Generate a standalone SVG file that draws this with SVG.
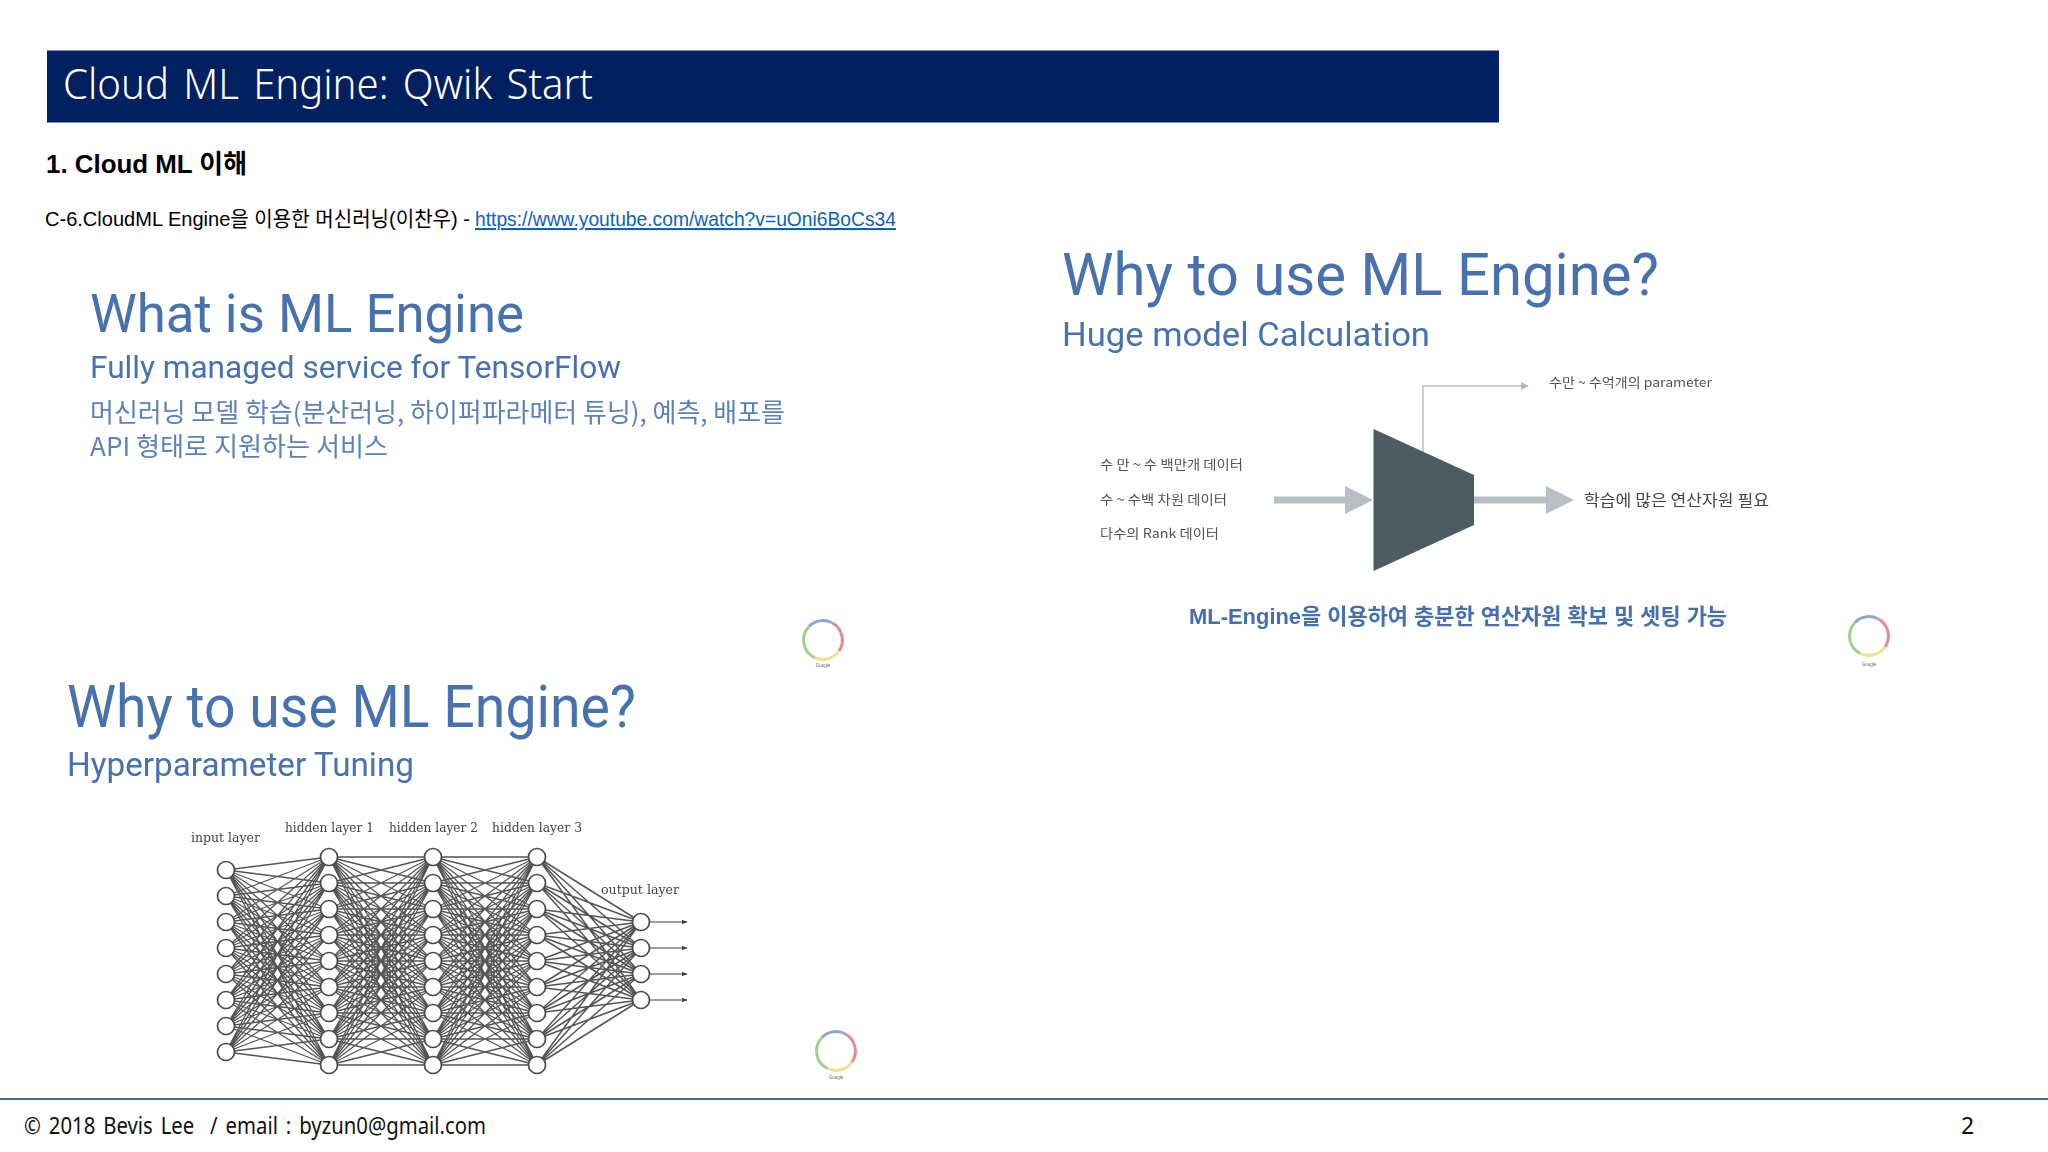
<svg xmlns="http://www.w3.org/2000/svg" width="2048" height="1152" viewBox="0 0 2048 1152">
<style>
text{font-family:"Liberation Sans","Noto Sans CJK KR",sans-serif}
.rb{font-family:Roboto,"Noto Sans CJK KR",sans-serif;fill:#4672ae}
.t1{font-size:59px}.t2{font-size:33px}
.ko{font-family:"Noto Sans CJK KR",sans-serif;font-weight:400}
.lb{font-family:"Noto Sans CJK KR",sans-serif;font-size:13px;fill:#555}
.nn{font-family:"DejaVu Serif",serif;font-size:12px;fill:#444}
.w{fill:#fff;stroke:#4a4a4a;stroke-width:1.700}
.e{fill:none;stroke:#555;stroke-width:1.300}
.gl{font-size:4.500px;fill:#666;text-anchor:middle}
.ar{fill:none;stroke-width:3}
.ft{font-family:"Noto Sans","Noto Sans CJK KR",sans-serif;font-size:23px;fill:#111;word-spacing:3px;white-space:pre}
</style>
<defs>
<filter id="soft" x="-5%" y="-5%" width="110%" height="110%"><feGaussianBlur stdDeviation="0.450"/></filter>
<filter id="ringblur" x="-20%" y="-20%" width="140%" height="140%"><feGaussianBlur stdDeviation="0.700"/></filter>
<g id="ring" filter="url(#ringblur)">
<path class="ar" stroke="#8ea3d6" d="M-14-13.500A19.500 19.500 0 0 1 8.500-17.500"/>
<path class="ar" stroke="#e08c92" d="M8.500-17.500A19.500 19.500 0 0 1 16 11"/>
<path class="ar" stroke="#ece48f" d="M16 11A19.500 19.500 0 0 1-8.500 17.500"/>
<path class="ar" stroke="#a3cf8f" d="M-8.500 17.500A19.500 19.500 0 0 1-14-13.500"/>
</g>
<marker id="tip" viewBox="0 0 10 10" refX="9" refY="5" markerWidth="8" markerHeight="8" markerUnits="userSpaceOnUse" orient="auto"><path d="M0 0L10 5L0 10Z" fill="#b0b9c0"/></marker>
<marker id="tipk" viewBox="0 0 10 10" refX="9" refY="5" markerWidth="6" markerHeight="6" markerUnits="userSpaceOnUse" orient="auto"><path d="M0 1L10 5L0 9Z" fill="#444"/></marker>
<path id="hh" class="e" d="M0 0L104 0M0 0L104 26M0 0L104 52M0 0L104 78M0 0L104 104M0 0L104 130M0 0L104 156M0 0L104 182M0 0L104 208M0 26L104 0M0 26L104 26M0 26L104 52M0 26L104 78M0 26L104 104M0 26L104 130M0 26L104 156M0 26L104 182M0 26L104 208M0 52L104 0M0 52L104 26M0 52L104 52M0 52L104 78M0 52L104 104M0 52L104 130M0 52L104 156M0 52L104 182M0 52L104 208M0 78L104 0M0 78L104 26M0 78L104 52M0 78L104 78M0 78L104 104M0 78L104 130M0 78L104 156M0 78L104 182M0 78L104 208M0 104L104 0M0 104L104 26M0 104L104 52M0 104L104 78M0 104L104 104M0 104L104 130M0 104L104 156M0 104L104 182M0 104L104 208M0 130L104 0M0 130L104 26M0 130L104 52M0 130L104 78M0 130L104 104M0 130L104 130M0 130L104 156M0 130L104 182M0 130L104 208M0 156L104 0M0 156L104 26M0 156L104 52M0 156L104 78M0 156L104 104M0 156L104 130M0 156L104 156M0 156L104 182M0 156L104 208M0 182L104 0M0 182L104 26M0 182L104 52M0 182L104 78M0 182L104 104M0 182L104 130M0 182L104 156M0 182L104 182M0 182L104 208M0 208L104 0M0 208L104 26M0 208L104 52M0 208L104 78M0 208L104 104M0 208L104 130M0 208L104 156M0 208L104 182M0 208L104 208"/>
</defs>
<rect width="2048" height="1152" fill="#fff"/>

<g id="header">
<rect x="47" y="50.500" width="1452" height="72" fill="#002060"/>
<text x="63" y="99" font-size="42" fill="#fff" word-spacing="4" style="font-family:'Noto Sans',sans-serif;font-weight:300" textLength="530" lengthAdjust="spacingAndGlyphs">Cloud ML Engine: Qwik Start</text>
</g>
<g id="intro">
<text x="46" y="173" font-size="26" font-weight="700" fill="#000" textLength="201" lengthAdjust="spacingAndGlyphs">1. Cloud ML 이해</text>
<text x="45" y="226" font-size="21" fill="#000" textLength="425" lengthAdjust="spacingAndGlyphs">C-6.CloudML Engine을 이용한 머신러닝(이찬우) -</text>
<text x="475" y="226" font-size="21" fill="#0c62bd" text-decoration="underline" textLength="421" lengthAdjust="spacingAndGlyphs">https://www.youtube.com/watch?v=uOni6BoCs34</text>
</g>

<g id="slide-what" filter="url(#soft)">
<text class="rb" x="90" y="332" font-size="54" textLength="434" lengthAdjust="spacingAndGlyphs">What is ML Engine</text>
<text class="rb" x="90" y="378" font-size="32" textLength="531" lengthAdjust="spacingAndGlyphs">Fully managed service for TensorFlow</text>
<text class="ko" x="90" y="422" font-size="26" fill="#5c82ba" textLength="695" lengthAdjust="spacingAndGlyphs">머신러닝 모델 학습(분산러닝, 하이퍼파라메터 튜닝), 예측, 배포를</text>
<text class="ko" x="90" y="456" font-size="26" fill="#5c82ba" textLength="298" lengthAdjust="spacingAndGlyphs">API 형태로 지원하는 서비스</text>
<use href="#ring" x="823" y="640"/>
<text class="gl" x="823" y="667">Google</text>
</g>

<g id="slide-huge" filter="url(#soft)">
<text class="rb t1" x="1062" y="295" textLength="597" lengthAdjust="spacingAndGlyphs">Why to use ML Engine?</text>
<text class="rb t2" x="1062" y="346" textLength="368" lengthAdjust="spacingAndGlyphs">Huge model Calculation</text>
<text class="lb" x="1100" y="469" textLength="143" lengthAdjust="spacingAndGlyphs">수 만 ~ 수 백만개 데이터</text>
<text class="lb" x="1100" y="504" textLength="127" lengthAdjust="spacingAndGlyphs">수 ~ 수백 차원 데이터</text>
<text class="lb" x="1100" y="538" textLength="119" lengthAdjust="spacingAndGlyphs">다수의 Rank 데이터</text>
<text class="lb" x="1549" y="387" textLength="163" lengthAdjust="spacingAndGlyphs">수만 ~ 수억개의 parameter</text>
<g id="huge-connectors" fill="#b6bfc6">
<path d="M1423 452V386H1528" fill="none" stroke="#b6bfc6" stroke-width="1.500" marker-end="url(#tip)"/>
<path d="M1274 496.500H1345V486L1373 500L1345 514V503.500H1274Z"/>
<path d="M1473 496.500H1546V486L1574 500L1546 514V503.500H1473Z"/>
</g>
<polygon id="huge-model" points="1373.500,429 1474,475 1474,525 1373.500,571" fill="#4d5b64"/>
<text class="lb" x="1584" y="506" style="font-size:16px;fill:#444" textLength="185" lengthAdjust="spacingAndGlyphs">학습에 많은 연산자원 필요</text>
<text x="1189" y="624" font-size="22" font-weight="700" fill="#4470ad" textLength="538" lengthAdjust="spacingAndGlyphs">ML-Engine을 이용하여 충분한 연산자원 확보 및 셋팅 가능</text>
<use href="#ring" x="1869" y="636"/>
<text class="gl" x="1869" y="666">Google</text>
</g>

<g id="slide-hyper" filter="url(#soft)">
<text class="rb t1" x="67" y="727" textLength="569" lengthAdjust="spacingAndGlyphs">Why to use ML Engine?</text>
<text class="rb t2" x="67" y="776" textLength="347" lengthAdjust="spacingAndGlyphs">Hyperparameter Tuning</text>
<g id="nn-labels">
<text class="nn" x="191" y="842" textLength="69" lengthAdjust="spacingAndGlyphs">input layer</text>
<text class="nn" x="285" y="832" textLength="89" lengthAdjust="spacingAndGlyphs">hidden layer 1</text>
<text class="nn" x="389" y="832" textLength="89" lengthAdjust="spacingAndGlyphs">hidden layer 2</text>
<text class="nn" x="492" y="832" textLength="90" lengthAdjust="spacingAndGlyphs">hidden layer 3</text>
<text class="nn" x="601" y="894" textLength="78" lengthAdjust="spacingAndGlyphs">output layer</text>
</g>
<g id="nn-connectors">
<path class="e" transform="translate(226 857)" d="M0 13L103 0M0 13L103 26M0 13L103 52M0 13L103 78M0 13L103 104M0 13L103 130M0 13L103 156M0 13L103 182M0 13L103 208M0 39L103 0M0 39L103 26M0 39L103 52M0 39L103 78M0 39L103 104M0 39L103 130M0 39L103 156M0 39L103 182M0 39L103 208M0 65L103 0M0 65L103 26M0 65L103 52M0 65L103 78M0 65L103 104M0 65L103 130M0 65L103 156M0 65L103 182M0 65L103 208M0 91L103 0M0 91L103 26M0 91L103 52M0 91L103 78M0 91L103 104M0 91L103 130M0 91L103 156M0 91L103 182M0 91L103 208M0 117L103 0M0 117L103 26M0 117L103 52M0 117L103 78M0 117L103 104M0 117L103 130M0 117L103 156M0 117L103 182M0 117L103 208M0 143L103 0M0 143L103 26M0 143L103 52M0 143L103 78M0 143L103 104M0 143L103 130M0 143L103 156M0 143L103 182M0 143L103 208M0 169L103 0M0 169L103 26M0 169L103 52M0 169L103 78M0 169L103 104M0 169L103 130M0 169L103 156M0 169L103 182M0 169L103 208M0 195L103 0M0 195L103 26M0 195L103 52M0 195L103 78M0 195L103 104M0 195L103 130M0 195L103 156M0 195L103 182M0 195L103 208"/>
<use href="#hh" transform="translate(329 857)"/>
<use href="#hh" transform="translate(433 857)"/>
<path class="e" style="stroke-width:1.500" transform="translate(537 857)" d="M0 0L104 65M0 0L104 91M0 0L104 117M0 0L104 143M0 26L104 65M0 26L104 91M0 26L104 117M0 26L104 143M0 52L104 65M0 52L104 91M0 52L104 117M0 52L104 143M0 78L104 65M0 78L104 91M0 78L104 117M0 78L104 143M0 104L104 65M0 104L104 91M0 104L104 117M0 104L104 143M0 130L104 65M0 130L104 91M0 130L104 117M0 130L104 143M0 156L104 65M0 156L104 91M0 156L104 117M0 156L104 143M0 182L104 65M0 182L104 91M0 182L104 117M0 182L104 143M0 208L104 65M0 208L104 91M0 208L104 117M0 208L104 143"/>
<path fill="none" stroke="#444" stroke-width="1.200" marker-end="url(#tipk)" d="M650 922H687"/>
<path fill="none" stroke="#444" stroke-width="1.200" marker-end="url(#tipk)" d="M650 948H687"/>
<path fill="none" stroke="#444" stroke-width="1.200" marker-end="url(#tipk)" d="M650 974H687"/>
<path fill="none" stroke="#444" stroke-width="1.200" marker-end="url(#tipk)" d="M650 1000H687"/>
</g>
<g id="nn-input">
<circle class="w" cx="226" cy="870" r="8.500"/><circle class="w" cx="226" cy="896" r="8.500"/><circle class="w" cx="226" cy="922" r="8.500"/><circle class="w" cx="226" cy="948" r="8.500"/><circle class="w" cx="226" cy="974" r="8.500"/><circle class="w" cx="226" cy="1000" r="8.500"/><circle class="w" cx="226" cy="1026" r="8.500"/><circle class="w" cx="226" cy="1052" r="8.500"/>
</g>
<g id="nn-hidden-1">
<circle class="w" cx="329" cy="857" r="8.500"/><circle class="w" cx="329" cy="883" r="8.500"/><circle class="w" cx="329" cy="909" r="8.500"/><circle class="w" cx="329" cy="935" r="8.500"/><circle class="w" cx="329" cy="961" r="8.500"/><circle class="w" cx="329" cy="987" r="8.500"/><circle class="w" cx="329" cy="1013" r="8.500"/><circle class="w" cx="329" cy="1039" r="8.500"/><circle class="w" cx="329" cy="1065" r="8.500"/>
</g>
<g id="nn-hidden-2">
<circle class="w" cx="433" cy="857" r="8.500"/><circle class="w" cx="433" cy="883" r="8.500"/><circle class="w" cx="433" cy="909" r="8.500"/><circle class="w" cx="433" cy="935" r="8.500"/><circle class="w" cx="433" cy="961" r="8.500"/><circle class="w" cx="433" cy="987" r="8.500"/><circle class="w" cx="433" cy="1013" r="8.500"/><circle class="w" cx="433" cy="1039" r="8.500"/><circle class="w" cx="433" cy="1065" r="8.500"/>
</g>
<g id="nn-hidden-3">
<circle class="w" cx="537" cy="857" r="8.500"/><circle class="w" cx="537" cy="883" r="8.500"/><circle class="w" cx="537" cy="909" r="8.500"/><circle class="w" cx="537" cy="935" r="8.500"/><circle class="w" cx="537" cy="961" r="8.500"/><circle class="w" cx="537" cy="987" r="8.500"/><circle class="w" cx="537" cy="1013" r="8.500"/><circle class="w" cx="537" cy="1039" r="8.500"/><circle class="w" cx="537" cy="1065" r="8.500"/>
</g>
<g id="nn-output">
<circle class="w" cx="641" cy="922" r="8.500"/><circle class="w" cx="641" cy="948" r="8.500"/><circle class="w" cx="641" cy="974" r="8.500"/><circle class="w" cx="641" cy="1000" r="8.500"/>
</g>
<use href="#ring" x="836" y="1051"/>
<text class="gl" x="836" y="1079">Google</text>
</g>

<g id="footer">
<line x1="0" y1="1099" x2="2048" y2="1099" stroke="#4f6a96" stroke-width="2"/>
<text class="ft" x="24" y="1134" textLength="462" lengthAdjust="spacingAndGlyphs">© 2018 Bevis Lee  / email : byzun0@gmail.com</text>
<text class="ft" x="1961" y="1134">2</text>
</g>
</svg>
